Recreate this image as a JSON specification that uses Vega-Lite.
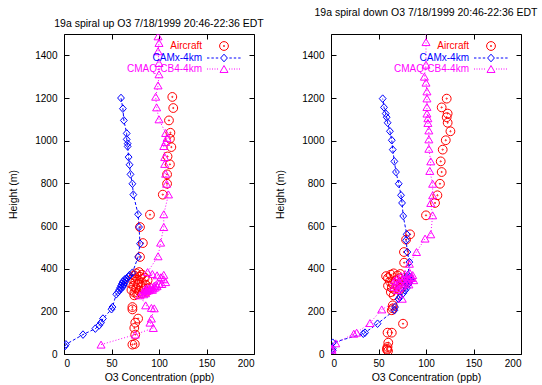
{
  "$schema": "https://vega.github.io/schema/vega-lite/v6.json",
  "background": "white",
  "padding": {"left": 8, "top": 7, "right": 0, "bottom": 0},
  "spacing": 10,
  "config": {
    "font": "Liberation Sans",
    "view": {"stroke": "black", "strokeWidth": 1},
    "axis": {"grid": false, "domain": false, "tickColor": "black", "tickSize": -5, "tickWidth": 1, "labelColor": "black", "labelFontSize": 10, "labelFont": "Liberation Sans", "titleFont": "Liberation Sans", "titleFontSize": 10.5, "titleFontWeight": "normal", "titleColor": "black", "format": "d"},
    "axisX": {"labelPadding": 9, "titlePadding": 4},
    "axisY": {"labelPadding": 12, "titlePadding": 16},
    "legend": {"orient": "none", "legendX": 155, "legendY": 7, "title": null, "padding": 0, "labelAlign": "right", "labelOffset": -27, "labelFontSize": 10, "labelFont": "Liberation Sans", "symbolSize": 64, "symbolStrokeWidth": 1, "rowPadding": -6.7},
    "title": {"fontSize": 10.5, "fontWeight": "normal", "color": "black", "font": "Liberation Sans", "offset": 4, "frame": "group", "anchor": "middle"}
  },
  "datasets": {
    "d": [
      {"p":"up","s":"Aircraft","v":72,"h":44},{"p":"up","s":"Aircraft","v":74.5,"h":47},{"p":"up","s":"Aircraft","v":75,"h":91},{"p":"up","s":"Aircraft","v":74,"h":122},{"p":"up","s":"Aircraft","v":75,"h":147},{"p":"up","s":"Aircraft","v":78,"h":166},{"p":"up","s":"Aircraft","v":72,"h":209},{"p":"up","s":"Aircraft","v":72,"h":220},{"p":"up","s":"Aircraft","v":74,"h":275},{"p":"up","s":"Aircraft","v":77,"h":280},{"p":"up","s":"Aircraft","v":82,"h":284},{"p":"up","s":"Aircraft","v":74,"h":288},{"p":"up","s":"Aircraft","v":87,"h":292},{"p":"up","s":"Aircraft","v":79,"h":296},{"p":"up","s":"Aircraft","v":71,"h":300},{"p":"up","s":"Aircraft","v":84,"h":304},{"p":"up","s":"Aircraft","v":76,"h":308},{"p":"up","s":"Aircraft","v":90,"h":312},{"p":"up","s":"Aircraft","v":81,"h":316},{"p":"up","s":"Aircraft","v":73,"h":320},{"p":"up","s":"Aircraft","v":86,"h":324},{"p":"up","s":"Aircraft","v":78,"h":328},{"p":"up","s":"Aircraft","v":70,"h":332},{"p":"up","s":"Aircraft","v":82,"h":336},{"p":"up","s":"Aircraft","v":75,"h":340},{"p":"up","s":"Aircraft","v":88,"h":345},{"p":"up","s":"Aircraft","v":78,"h":348},{"p":"up","s":"Aircraft","v":72,"h":352},{"p":"up","s":"Aircraft","v":85,"h":358},{"p":"up","s":"Aircraft","v":80,"h":362},{"p":"up","s":"Aircraft","v":74,"h":368},{"p":"up","s":"Aircraft","v":82,"h":372},{"p":"up","s":"Aircraft","v":76,"h":378},{"p":"up","s":"Aircraft","v":79,"h":384},{"p":"up","s":"Aircraft","v":80,"h":455},{"p":"up","s":"Aircraft","v":83,"h":520},{"p":"up","s":"Aircraft","v":80,"h":595},{"p":"up","s":"Aircraft","v":90.5,"h":653},{"p":"up","s":"Aircraft","v":104,"h":747},{"p":"up","s":"Aircraft","v":108.5,"h":798},{"p":"up","s":"Aircraft","v":108.5,"h":842},{"p":"up","s":"Aircraft","v":111.5,"h":889},{"p":"up","s":"Aircraft","v":109,"h":926},{"p":"up","s":"Aircraft","v":113,"h":970},{"p":"up","s":"Aircraft","v":111.5,"h":1009},{"p":"up","s":"Aircraft","v":112,"h":1037},{"p":"up","s":"Aircraft","v":110.5,"h":1095},{"p":"up","s":"Aircraft","v":115,"h":1153},{"p":"up","s":"Aircraft","v":114,"h":1205},
      {"p":"up","s":"CAMx-4km","v":1,"h":37},{"p":"up","s":"CAMx-4km","v":2,"h":45},{"p":"up","s":"CAMx-4km","v":20,"h":91},{"p":"up","s":"CAMx-4km","v":33,"h":119},{"p":"up","s":"CAMx-4km","v":37,"h":134},{"p":"up","s":"CAMx-4km","v":39,"h":147},{"p":"up","s":"CAMx-4km","v":41,"h":166},{"p":"up","s":"CAMx-4km","v":50,"h":210},{"p":"up","s":"CAMx-4km","v":51,"h":220},{"p":"up","s":"CAMx-4km","v":55,"h":280},{"p":"up","s":"CAMx-4km","v":57,"h":290},{"p":"up","s":"CAMx-4km","v":58,"h":300},{"p":"up","s":"CAMx-4km","v":60,"h":305},{"p":"up","s":"CAMx-4km","v":59,"h":310},{"p":"up","s":"CAMx-4km","v":62,"h":315},{"p":"up","s":"CAMx-4km","v":60,"h":320},{"p":"up","s":"CAMx-4km","v":63,"h":325},{"p":"up","s":"CAMx-4km","v":61,"h":330},{"p":"up","s":"CAMx-4km","v":64,"h":335},{"p":"up","s":"CAMx-4km","v":62,"h":340},{"p":"up","s":"CAMx-4km","v":65,"h":345},{"p":"up","s":"CAMx-4km","v":64,"h":350},{"p":"up","s":"CAMx-4km","v":66,"h":355},{"p":"up","s":"CAMx-4km","v":68,"h":362},{"p":"up","s":"CAMx-4km","v":69,"h":370},{"p":"up","s":"CAMx-4km","v":72,"h":381},{"p":"up","s":"CAMx-4km","v":78,"h":455},{"p":"up","s":"CAMx-4km","v":80,"h":517},{"p":"up","s":"CAMx-4km","v":79,"h":595},{"p":"up","s":"CAMx-4km","v":78,"h":655},{"p":"up","s":"CAMx-4km","v":73,"h":747},{"p":"up","s":"CAMx-4km","v":72,"h":798},{"p":"up","s":"CAMx-4km","v":70,"h":842},{"p":"up","s":"CAMx-4km","v":69,"h":887},{"p":"up","s":"CAMx-4km","v":68,"h":923},{"p":"up","s":"CAMx-4km","v":67,"h":973},{"p":"up","s":"CAMx-4km","v":67,"h":986},{"p":"up","s":"CAMx-4km","v":66,"h":1006},{"p":"up","s":"CAMx-4km","v":66,"h":1034},{"p":"up","s":"CAMx-4km","v":63,"h":1095},{"p":"up","s":"CAMx-4km","v":62,"h":1150},{"p":"up","s":"CAMx-4km","v":60,"h":1200},
      {"p":"up","s":"CMAQ-CB4-4km","v":39,"h":44},{"p":"up","s":"CMAQ-CB4-4km","v":75,"h":91},{"p":"up","s":"CMAQ-CB4-4km","v":94,"h":122},{"p":"up","s":"CMAQ-CB4-4km","v":90.5,"h":147},{"p":"up","s":"CMAQ-CB4-4km","v":92,"h":166},{"p":"up","s":"CMAQ-CB4-4km","v":95,"h":214},{"p":"up","s":"CMAQ-CB4-4km","v":92,"h":216},{"p":"up","s":"CMAQ-CB4-4km","v":86,"h":228},{"p":"up","s":"CMAQ-CB4-4km","v":80,"h":275},{"p":"up","s":"CMAQ-CB4-4km","v":84,"h":280},{"p":"up","s":"CMAQ-CB4-4km","v":86,"h":285},{"p":"up","s":"CMAQ-CB4-4km","v":83,"h":290},{"p":"up","s":"CMAQ-CB4-4km","v":87,"h":295},{"p":"up","s":"CMAQ-CB4-4km","v":89,"h":298},{"p":"up","s":"CMAQ-CB4-4km","v":85,"h":300},{"p":"up","s":"CMAQ-CB4-4km","v":93,"h":301},{"p":"up","s":"CMAQ-CB4-4km","v":91,"h":302},{"p":"up","s":"CMAQ-CB4-4km","v":90,"h":305},{"p":"up","s":"CMAQ-CB4-4km","v":86,"h":306},{"p":"up","s":"CMAQ-CB4-4km","v":94,"h":308},{"p":"up","s":"CMAQ-CB4-4km","v":88,"h":310},{"p":"up","s":"CMAQ-CB4-4km","v":96,"h":312},{"p":"up","s":"CMAQ-CB4-4km","v":92,"h":315},{"p":"up","s":"CMAQ-CB4-4km","v":98,"h":318},{"p":"up","s":"CMAQ-CB4-4km","v":95,"h":320},{"p":"up","s":"CMAQ-CB4-4km","v":97,"h":325},{"p":"up","s":"CMAQ-CB4-4km","v":103,"h":328},{"p":"up","s":"CMAQ-CB4-4km","v":100,"h":330},{"p":"up","s":"CMAQ-CB4-4km","v":107,"h":337},{"p":"up","s":"CMAQ-CB4-4km","v":105,"h":350},{"p":"up","s":"CMAQ-CB4-4km","v":102,"h":360},{"p":"up","s":"CMAQ-CB4-4km","v":98,"h":369},{"p":"up","s":"CMAQ-CB4-4km","v":105,"h":371},{"p":"up","s":"CMAQ-CB4-4km","v":93,"h":375},{"p":"up","s":"CMAQ-CB4-4km","v":88,"h":384},{"p":"up","s":"CMAQ-CB4-4km","v":99,"h":458},{"p":"up","s":"CMAQ-CB4-4km","v":101.7,"h":522},{"p":"up","s":"CMAQ-CB4-4km","v":105,"h":595},{"p":"up","s":"CMAQ-CB4-4km","v":105,"h":655},{"p":"up","s":"CMAQ-CB4-4km","v":110,"h":748},{"p":"up","s":"CMAQ-CB4-4km","v":108,"h":798},{"p":"up","s":"CMAQ-CB4-4km","v":107,"h":845},{"p":"up","s":"CMAQ-CB4-4km","v":106,"h":891},{"p":"up","s":"CMAQ-CB4-4km","v":106,"h":923},{"p":"up","s":"CMAQ-CB4-4km","v":105,"h":975},{"p":"up","s":"CMAQ-CB4-4km","v":107,"h":994},{"p":"up","s":"CMAQ-CB4-4km","v":108.5,"h":1013},{"p":"up","s":"CMAQ-CB4-4km","v":107,"h":1036},{"p":"up","s":"CMAQ-CB4-4km","v":100,"h":1100},{"p":"up","s":"CMAQ-CB4-4km","v":97.5,"h":1156},{"p":"up","s":"CMAQ-CB4-4km","v":96.5,"h":1206},{"p":"up","s":"CMAQ-CB4-4km","v":99,"h":1259},{"p":"up","s":"CMAQ-CB4-4km","v":100,"h":1311},{"p":"up","s":"CMAQ-CB4-4km","v":100,"h":1364},{"p":"up","s":"CMAQ-CB4-4km","v":99,"h":1419},{"p":"up","s":"CMAQ-CB4-4km","v":100,"h":1458},{"p":"up","s":"CMAQ-CB4-4km","v":99,"h":1489},
      {"p":"down","s":"Aircraft","v":60,"h":14},{"p":"down","s":"Aircraft","v":59,"h":20},{"p":"down","s":"Aircraft","v":59,"h":25},{"p":"down","s":"Aircraft","v":59.5,"h":33},{"p":"down","s":"Aircraft","v":60.3,"h":53},{"p":"down","s":"Aircraft","v":59.5,"h":100},{"p":"down","s":"Aircraft","v":64,"h":100},{"p":"down","s":"Aircraft","v":75.8,"h":142},{"p":"down","s":"Aircraft","v":64,"h":205},{"p":"down","s":"Aircraft","v":65,"h":214},{"p":"down","s":"Aircraft","v":65,"h":228},{"p":"down","s":"Aircraft","v":66,"h":275},{"p":"down","s":"Aircraft","v":63,"h":290},{"p":"down","s":"Aircraft","v":72,"h":300},{"p":"down","s":"Aircraft","v":67,"h":302},{"p":"down","s":"Aircraft","v":64,"h":310},{"p":"down","s":"Aircraft","v":74,"h":311},{"p":"down","s":"Aircraft","v":60,"h":320},{"p":"down","s":"Aircraft","v":70,"h":321},{"p":"down","s":"Aircraft","v":65,"h":330},{"p":"down","s":"Aircraft","v":77,"h":331},{"p":"down","s":"Aircraft","v":62,"h":340},{"p":"down","s":"Aircraft","v":75,"h":341},{"p":"down","s":"Aircraft","v":68,"h":345},{"p":"down","s":"Aircraft","v":72,"h":355},{"p":"down","s":"Aircraft","v":60,"h":356},{"p":"down","s":"Aircraft","v":58,"h":365},{"p":"down","s":"Aircraft","v":70,"h":368},{"p":"down","s":"Aircraft","v":63,"h":372},{"p":"down","s":"Aircraft","v":73,"h":375},{"p":"down","s":"Aircraft","v":66,"h":378},{"p":"down","s":"Aircraft","v":77,"h":428},{"p":"down","s":"Aircraft","v":76.8,"h":478},{"p":"down","s":"Aircraft","v":79,"h":536},{"p":"down","s":"Aircraft","v":83.2,"h":561},{"p":"down","s":"Aircraft","v":100,"h":650},{"p":"down","s":"Aircraft","v":109.5,"h":708},{"p":"down","s":"Aircraft","v":112,"h":744},{"p":"down","s":"Aircraft","v":114.7,"h":798},{"p":"down","s":"Aircraft","v":116.5,"h":853},{"p":"down","s":"Aircraft","v":115.5,"h":903},{"p":"down","s":"Aircraft","v":117.6,"h":958},{"p":"down","s":"Aircraft","v":120.8,"h":1002},{"p":"down","s":"Aircraft","v":125.7,"h":1044},{"p":"down","s":"Aircraft","v":122.8,"h":1084},{"p":"down","s":"Aircraft","v":121.8,"h":1110},{"p":"down","s":"Aircraft","v":122.8,"h":1127},{"p":"down","s":"Aircraft","v":116.5,"h":1156},{"p":"down","s":"Aircraft","v":121.8,"h":1197},
      {"p":"down","s":"CAMx-4km","v":1.8,"h":17},{"p":"down","s":"CAMx-4km","v":1.8,"h":25},{"p":"down","s":"CAMx-4km","v":1.8,"h":53},{"p":"down","s":"CAMx-4km","v":34,"h":95},{"p":"down","s":"CAMx-4km","v":35.8,"h":100},{"p":"down","s":"CAMx-4km","v":49,"h":142},{"p":"down","s":"CAMx-4km","v":66.7,"h":205},{"p":"down","s":"CAMx-4km","v":67.4,"h":220},{"p":"down","s":"CAMx-4km","v":71,"h":258},{"p":"down","s":"CAMx-4km","v":72.6,"h":267},{"p":"down","s":"CAMx-4km","v":76,"h":285},{"p":"down","s":"CAMx-4km","v":78,"h":298},{"p":"down","s":"CAMx-4km","v":80,"h":310},{"p":"down","s":"CAMx-4km","v":80,"h":322},{"p":"down","s":"CAMx-4km","v":82,"h":330},{"p":"down","s":"CAMx-4km","v":80,"h":340},{"p":"down","s":"CAMx-4km","v":84,"h":345},{"p":"down","s":"CAMx-4km","v":82,"h":350},{"p":"down","s":"CAMx-4km","v":80,"h":355},{"p":"down","s":"CAMx-4km","v":83,"h":360},{"p":"down","s":"CAMx-4km","v":81,"h":370},{"p":"down","s":"CAMx-4km","v":82.5,"h":431},{"p":"down","s":"CAMx-4km","v":80.4,"h":478},{"p":"down","s":"CAMx-4km","v":79,"h":533},{"p":"down","s":"CAMx-4km","v":79.7,"h":561},{"p":"down","s":"CAMx-4km","v":76,"h":647},{"p":"down","s":"CAMx-4km","v":74.8,"h":708},{"p":"down","s":"CAMx-4km","v":73.7,"h":744},{"p":"down","s":"CAMx-4km","v":71.3,"h":798},{"p":"down","s":"CAMx-4km","v":68.4,"h":853},{"p":"down","s":"CAMx-4km","v":66.7,"h":903},{"p":"down","s":"CAMx-4km","v":65,"h":958},{"p":"down","s":"CAMx-4km","v":64,"h":1002},{"p":"down","s":"CAMx-4km","v":62,"h":1044},{"p":"down","s":"CAMx-4km","v":59.6,"h":1084},{"p":"down","s":"CAMx-4km","v":58.6,"h":1110},{"p":"down","s":"CAMx-4km","v":57.6,"h":1127},{"p":"down","s":"CAMx-4km","v":55.8,"h":1156},{"p":"down","s":"CAMx-4km","v":54.4,"h":1197},
      {"p":"down","s":"CMAQ-CB4-4km","v":1,"h":17},{"p":"down","s":"CMAQ-CB4-4km","v":1,"h":25},{"p":"down","s":"CMAQ-CB4-4km","v":5,"h":50},{"p":"down","s":"CMAQ-CB4-4km","v":24,"h":95},{"p":"down","s":"CMAQ-CB4-4km","v":27,"h":100},{"p":"down","s":"CMAQ-CB4-4km","v":41,"h":145},{"p":"down","s":"CMAQ-CB4-4km","v":53.4,"h":209},{"p":"down","s":"CMAQ-CB4-4km","v":75,"h":259},{"p":"down","s":"CMAQ-CB4-4km","v":70,"h":300},{"p":"down","s":"CMAQ-CB4-4km","v":72,"h":310},{"p":"down","s":"CMAQ-CB4-4km","v":66,"h":315},{"p":"down","s":"CMAQ-CB4-4km","v":75,"h":320},{"p":"down","s":"CMAQ-CB4-4km","v":68,"h":325},{"p":"down","s":"CMAQ-CB4-4km","v":82,"h":326},{"p":"down","s":"CMAQ-CB4-4km","v":78,"h":330},{"p":"down","s":"CMAQ-CB4-4km","v":72,"h":335},{"p":"down","s":"CMAQ-CB4-4km","v":80,"h":340},{"p":"down","s":"CMAQ-CB4-4km","v":67,"h":345},{"p":"down","s":"CMAQ-CB4-4km","v":87,"h":346},{"p":"down","s":"CMAQ-CB4-4km","v":82,"h":350},{"p":"down","s":"CMAQ-CB4-4km","v":76,"h":351},{"p":"down","s":"CMAQ-CB4-4km","v":70,"h":355},{"p":"down","s":"CMAQ-CB4-4km","v":85,"h":356},{"p":"down","s":"CMAQ-CB4-4km","v":84,"h":360},{"p":"down","s":"CMAQ-CB4-4km","v":80,"h":361},{"p":"down","s":"CMAQ-CB4-4km","v":74,"h":365},{"p":"down","s":"CMAQ-CB4-4km","v":86,"h":370},{"p":"down","s":"CMAQ-CB4-4km","v":78,"h":375},{"p":"down","s":"CMAQ-CB4-4km","v":83,"h":380},{"p":"down","s":"CMAQ-CB4-4km","v":82.5,"h":423},{"p":"down","s":"CMAQ-CB4-4km","v":90,"h":478},{"p":"down","s":"CMAQ-CB4-4km","v":99,"h":541},{"p":"down","s":"CMAQ-CB4-4km","v":105,"h":561},{"p":"down","s":"CMAQ-CB4-4km","v":107,"h":650},{"p":"down","s":"CMAQ-CB4-4km","v":105,"h":708},{"p":"down","s":"CMAQ-CB4-4km","v":107,"h":744},{"p":"down","s":"CMAQ-CB4-4km","v":107,"h":798},{"p":"down","s":"CMAQ-CB4-4km","v":104,"h":858},{"p":"down","s":"CMAQ-CB4-4km","v":105,"h":903},{"p":"down","s":"CMAQ-CB4-4km","v":103,"h":962},{"p":"down","s":"CMAQ-CB4-4km","v":103,"h":1006},{"p":"down","s":"CMAQ-CB4-4km","v":103,"h":1048},{"p":"down","s":"CMAQ-CB4-4km","v":102,"h":1083},{"p":"down","s":"CMAQ-CB4-4km","v":102,"h":1105},{"p":"down","s":"CMAQ-CB4-4km","v":101,"h":1127},{"p":"down","s":"CMAQ-CB4-4km","v":101,"h":1158},{"p":"down","s":"CMAQ-CB4-4km","v":101,"h":1198},{"p":"down","s":"CMAQ-CB4-4km","v":101,"h":1231},{"p":"down","s":"CMAQ-CB4-4km","v":100,"h":1272},{"p":"down","s":"CMAQ-CB4-4km","v":98.3,"h":1300},{"p":"down","s":"CMAQ-CB4-4km","v":100,"h":1356},{"p":"down","s":"CMAQ-CB4-4km","v":100,"h":1462},{"p":"down","s":"CMAQ-CB4-4km","v":100,"h":1540}
    ]
  },
  "hconcat": [
    {
      "width": 190, "height": 320,
      "title": "19a spiral up O3 7/18/1999 20:46-22:36 EDT",
      "data": {"name": "d"},
      "transform": [{"filter": "datum.p === 'up'"}],
      "layer": [
        {
          "transform": [{"filter": "datum.s !== 'Aircraft'"}],
          "mark": {"type": "line", "strokeWidth": 1, "clip": true},
          "encoding": {
            "x": {"field": "v", "type": "quantitative", "scale": {"domain": [0, 200], "nice": false}, "axis": null},
            "y": {"field": "h", "type": "quantitative", "scale": {"domain": [0, 1500], "nice": false}, "axis": null},
            "color": {"field": "s", "type": "nominal", "scale": {"domain": ["Aircraft", "CAMx-4km", "CMAQ-CB4-4km"], "range": ["#ff0000", "#0000ff", "#ff00ff"]},
              "legend": {"orient": "none", "legendX": 155, "legendY": 7,
                "encode": {
                  "symbols": {"update": {"shape": {"signal": "datum.value === 'Aircraft' ? 'M-1.1,0A1.1,1.1 0 1,0 1.1,0A1.1,1.1 0 1,0 -1.1,0Z M-0.15,0A0.15,0.15 0 1,0 0.15,0A0.15,0.15 0 1,0 -0.15,0Z' : datum.value === 'CAMx-4km' ? 'M-4.25,0H-3.65M-3.15,0H-2.55M-2.05,0H-1.45M-0.85,0L0,-0.95L0.85,0L0,0.95ZM1.35,0H1.95M2.45,0H3.05M3.55,0H4.15' : 'M-4.25,0H-4M-3.625,0H-3.375M-3,0H-2.75M-2.375,0H-2.125M-1.75,0H-1.5M0,-0.87L1,0.87L-1,0.87ZM1.25,0H1.5M1.875,0H2.125M2.5,0H2.75M3.125,0H3.375M3.75,0H4'"}, "fill": {"value": "transparent"}, "strokeDash": {"value": []}, "stroke": {"signal": "datum.value === 'Aircraft' ? '#ff0000' : datum.value === 'CAMx-4km' ? '#0000ff' : '#ff00ff'"}}},
                  "labels": {"update": {"fill": {"signal": "datum.value === 'Aircraft' ? '#ff0000' : datum.value === 'CAMx-4km' ? '#0000ff' : '#ff00ff'"}}}
                }
              }
            },
            "strokeDash": {"field": "s", "type": "nominal", "scale": {"domain": ["CAMx-4km", "CMAQ-CB4-4km"], "range": [[3, 2], [1, 2]]}, "legend": null},
            "order": {"field": "h", "type": "quantitative"}
          }
        },
        {
          "mark": {"type": "point", "filled": false, "strokeWidth": 1, "size": 64, "opacity": 1, "clip": true},
          "encoding": {
            "x": {"field": "v", "type": "quantitative", "scale": {"domain": [0, 200], "nice": false}, "axis": {"values": [0, 50, 100, 150, 200], "title": "O3 Concentration (ppb)"}},
            "y": {"field": "h", "type": "quantitative", "scale": {"domain": [0, 1500], "nice": false}, "axis": {"values": [0, 200, 400, 600, 800, 1000, 1200, 1400], "title": "Height (m)"}},
            "color": {"field": "s", "type": "nominal", "scale": {"domain": ["Aircraft", "CAMx-4km", "CMAQ-CB4-4km"], "range": ["#ff0000", "#0000ff", "#ff00ff"]},
              "legend": {"orient": "none", "legendX": 155, "legendY": 7,
                "encode": {
                  "symbols": {"update": {"shape": {"signal": "datum.value === 'Aircraft' ? 'M-1.1,0A1.1,1.1 0 1,0 1.1,0A1.1,1.1 0 1,0 -1.1,0Z M-0.15,0A0.15,0.15 0 1,0 0.15,0A0.15,0.15 0 1,0 -0.15,0Z' : datum.value === 'CAMx-4km' ? 'M-4.25,0H-3.65M-3.15,0H-2.55M-2.05,0H-1.45M-0.85,0L0,-0.95L0.85,0L0,0.95ZM1.35,0H1.95M2.45,0H3.05M3.55,0H4.15' : 'M-4.25,0H-4M-3.625,0H-3.375M-3,0H-2.75M-2.375,0H-2.125M-1.75,0H-1.5M0,-0.87L1,0.87L-1,0.87ZM1.25,0H1.5M1.875,0H2.125M2.5,0H2.75M3.125,0H3.375M3.75,0H4'"}, "fill": {"value": "transparent"}, "strokeDash": {"value": []}, "stroke": {"signal": "datum.value === 'Aircraft' ? '#ff0000' : datum.value === 'CAMx-4km' ? '#0000ff' : '#ff00ff'"}}},
                  "labels": {"update": {"fill": {"signal": "datum.value === 'Aircraft' ? '#ff0000' : datum.value === 'CAMx-4km' ? '#0000ff' : '#ff00ff'"}}}
                }
              }
            },
            "shape": {"condition": [{"test": "datum.s === 'Aircraft'", "value": "M-1.1,0A1.1,1.1 0 1,0 1.1,0A1.1,1.1 0 1,0 -1.1,0Z M-0.15,0A0.15,0.15 0 1,0 0.15,0A0.15,0.15 0 1,0 -0.15,0Z"}, {"test": "datum.s === 'CAMx-4km'", "value": "M-0.85,0L0,-0.95L0.85,0L0,0.95Z"}], "value": "M0,-0.87L1,0.87L-1,0.87Z"}
          }
        },
        {
          "mark": {"type": "point", "opacity": 0},
          "encoding": {
            "x": {"field": "v", "type": "quantitative", "scale": {"domain": [0, 200], "nice": false}, "axis": {"orient": "top", "values": [0, 50, 100, 150, 200], "labels": false, "labelPadding": 0, "title": null}},
            "y": {"field": "h", "type": "quantitative", "scale": {"domain": [0, 1500], "nice": false}, "axis": {"orient": "right", "values": [0, 200, 400, 600, 800, 1000, 1200, 1400], "labels": false, "labelPadding": 0, "title": null}}
          }
        }
      ],
      "resolve": {"axis": {"x": "independent", "y": "independent"}}
    },
    {
      "width": 190, "height": 320,
      "title": "19a spiral down O3 7/18/1999 20:46-22:36 EDT",
      "data": {"name": "d"},
      "transform": [{"filter": "datum.p === 'down'"}],
      "layer": [
        {
          "transform": [{"filter": "datum.s !== 'Aircraft'"}],
          "mark": {"type": "line", "strokeWidth": 1, "clip": true},
          "encoding": {
            "x": {"field": "v", "type": "quantitative", "scale": {"domain": [0, 200], "nice": false}, "axis": null},
            "y": {"field": "h", "type": "quantitative", "scale": {"domain": [0, 1500], "nice": false}, "axis": null},
            "color": {"field": "s", "type": "nominal", "scale": {"domain": ["Aircraft", "CAMx-4km", "CMAQ-CB4-4km"], "range": ["#ff0000", "#0000ff", "#ff00ff"]},
              "legend": {"orient": "none", "legendX": 155, "legendY": 7,
                "encode": {
                  "symbols": {"update": {"shape": {"signal": "datum.value === 'Aircraft' ? 'M-1.1,0A1.1,1.1 0 1,0 1.1,0A1.1,1.1 0 1,0 -1.1,0Z M-0.15,0A0.15,0.15 0 1,0 0.15,0A0.15,0.15 0 1,0 -0.15,0Z' : datum.value === 'CAMx-4km' ? 'M-4.25,0H-3.65M-3.15,0H-2.55M-2.05,0H-1.45M-0.85,0L0,-0.95L0.85,0L0,0.95ZM1.35,0H1.95M2.45,0H3.05M3.55,0H4.15' : 'M-4.25,0H-4M-3.625,0H-3.375M-3,0H-2.75M-2.375,0H-2.125M-1.75,0H-1.5M0,-0.87L1,0.87L-1,0.87ZM1.25,0H1.5M1.875,0H2.125M2.5,0H2.75M3.125,0H3.375M3.75,0H4'"}, "fill": {"value": "transparent"}, "strokeDash": {"value": []}, "stroke": {"signal": "datum.value === 'Aircraft' ? '#ff0000' : datum.value === 'CAMx-4km' ? '#0000ff' : '#ff00ff'"}}},
                  "labels": {"update": {"fill": {"signal": "datum.value === 'Aircraft' ? '#ff0000' : datum.value === 'CAMx-4km' ? '#0000ff' : '#ff00ff'"}}}
                }
              }
            },
            "strokeDash": {"field": "s", "type": "nominal", "scale": {"domain": ["CAMx-4km", "CMAQ-CB4-4km"], "range": [[3, 2], [1, 2]]}, "legend": null},
            "order": {"field": "h", "type": "quantitative"}
          }
        },
        {
          "mark": {"type": "point", "filled": false, "strokeWidth": 1, "size": 64, "opacity": 1, "clip": true},
          "encoding": {
            "x": {"field": "v", "type": "quantitative", "scale": {"domain": [0, 200], "nice": false}, "axis": {"values": [0, 50, 100, 150, 200], "title": "O3 Concentration (ppb)"}},
            "y": {"field": "h", "type": "quantitative", "scale": {"domain": [0, 1500], "nice": false}, "axis": {"values": [0, 200, 400, 600, 800, 1000, 1200, 1400], "title": "Height (m)"}},
            "color": {"field": "s", "type": "nominal", "scale": {"domain": ["Aircraft", "CAMx-4km", "CMAQ-CB4-4km"], "range": ["#ff0000", "#0000ff", "#ff00ff"]},
              "legend": {"orient": "none", "legendX": 155, "legendY": 7,
                "encode": {
                  "symbols": {"update": {"shape": {"signal": "datum.value === 'Aircraft' ? 'M-1.1,0A1.1,1.1 0 1,0 1.1,0A1.1,1.1 0 1,0 -1.1,0Z M-0.15,0A0.15,0.15 0 1,0 0.15,0A0.15,0.15 0 1,0 -0.15,0Z' : datum.value === 'CAMx-4km' ? 'M-4.25,0H-3.65M-3.15,0H-2.55M-2.05,0H-1.45M-0.85,0L0,-0.95L0.85,0L0,0.95ZM1.35,0H1.95M2.45,0H3.05M3.55,0H4.15' : 'M-4.25,0H-4M-3.625,0H-3.375M-3,0H-2.75M-2.375,0H-2.125M-1.75,0H-1.5M0,-0.87L1,0.87L-1,0.87ZM1.25,0H1.5M1.875,0H2.125M2.5,0H2.75M3.125,0H3.375M3.75,0H4'"}, "fill": {"value": "transparent"}, "strokeDash": {"value": []}, "stroke": {"signal": "datum.value === 'Aircraft' ? '#ff0000' : datum.value === 'CAMx-4km' ? '#0000ff' : '#ff00ff'"}}},
                  "labels": {"update": {"fill": {"signal": "datum.value === 'Aircraft' ? '#ff0000' : datum.value === 'CAMx-4km' ? '#0000ff' : '#ff00ff'"}}}
                }
              }
            },
            "shape": {"condition": [{"test": "datum.s === 'Aircraft'", "value": "M-1.1,0A1.1,1.1 0 1,0 1.1,0A1.1,1.1 0 1,0 -1.1,0Z M-0.15,0A0.15,0.15 0 1,0 0.15,0A0.15,0.15 0 1,0 -0.15,0Z"}, {"test": "datum.s === 'CAMx-4km'", "value": "M-0.85,0L0,-0.95L0.85,0L0,0.95Z"}], "value": "M0,-0.87L1,0.87L-1,0.87Z"}
          }
        },
        {
          "mark": {"type": "point", "opacity": 0},
          "encoding": {
            "x": {"field": "v", "type": "quantitative", "scale": {"domain": [0, 200], "nice": false}, "axis": {"orient": "top", "values": [0, 50, 100, 150, 200], "labels": false, "labelPadding": 0, "title": null}},
            "y": {"field": "h", "type": "quantitative", "scale": {"domain": [0, 1500], "nice": false}, "axis": {"orient": "right", "values": [0, 200, 400, 600, 800, 1000, 1200, 1400], "labels": false, "labelPadding": 0, "title": null}}
          }
        }
      ],
      "resolve": {"axis": {"x": "independent", "y": "independent"}}
    }
  ],
  "resolve": {"scale": {"color": "independent", "strokeDash": "independent"}}
}
